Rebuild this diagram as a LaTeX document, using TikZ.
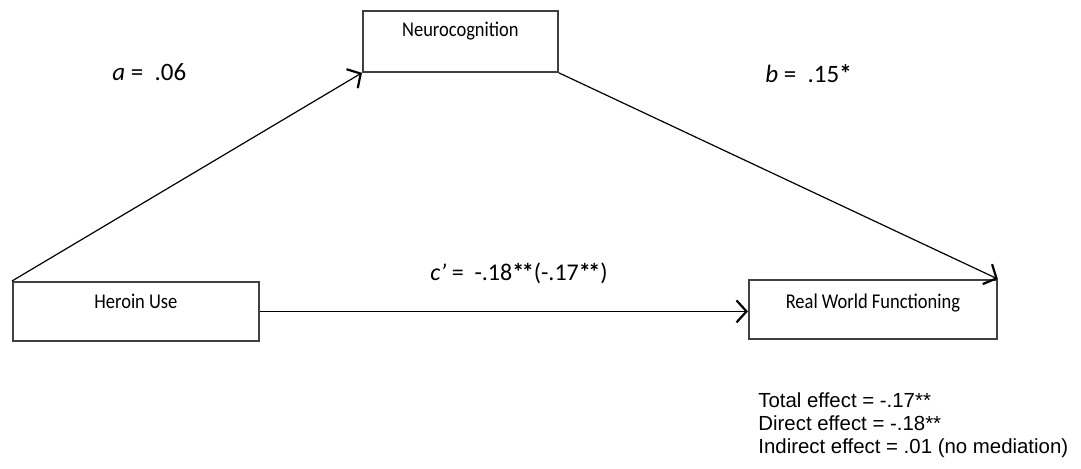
\documentclass[tikz,border=0pt]{standalone}
\usepackage{fontspec}
\setmainfont{Carlito}
\newfontfamily\boxfont[FakeStretch=0.88]{Carlito}
\newfontfamily\notefont{Liberation Sans}
\usetikzlibrary{arrows.meta}

\newcommand{\onestar}{\textbf{*}}
\newcommand{\twostar}{\textbf{*\kern-0.1em*}}

\tikzset{
  varbox/.style={draw=black!75, line width=0.9pt, rectangle, anchor=north west,
    minimum height=29.5pt, text height=7pt, font=\boxfont\fontsize{10.5}{12}\selectfont},
  pathlabel/.style={anchor=base west, inner sep=0pt, font=\fontsize{12.5}{14}\selectfont},
  effectnote/.style={anchor=base west, inner sep=0pt, font=\notefont\fontsize{10.2}{12}\selectfont},
  patharrow/.style={-{Straight Barb[length=5pt,width=11pt,line width=1.1pt]}, line width=0.6pt},
}

\begin{document}
\begin{tikzpicture}[x=0.5pt, y=-0.5pt]
    \useasboundingbox (0,0) rectangle (1081,468);

    % the three variables
    \node[varbox, minimum width=97.5pt, minimum height=30.5pt, text depth=12pt] (neuro) at (362,10) {Neurocognition};
    \node[varbox, minimum width=123pt, text depth=9.5pt] (heroin) at (12,281) {Heroin Use};
    \node[varbox, minimum width=124pt, text depth=7.5pt] (rwf) at (748,279) {Real World Functioning};

    % paths
    \draw[patharrow] (heroin.north west) -- (neuro.south west);
    \draw[patharrow] (neuro.south east) -- (rwf.north east);
    \draw[patharrow] (heroin.east) -- (heroin.east -| rwf.west);

    % path coefficients
    \node[pathlabel] (alabel) at (112,80) {\textit{a} = ~.06};
    \node[pathlabel] (blabel) at (765,82) {\textit{b} = ~.15\onestar};
    \node[pathlabel, font=\fontsize{12}{14}\selectfont] (clabel) at (430,280) {\textit{c’} = ~-.18\twostar(-.17\twostar)};

    % effects
    \node[effectnote] (total) at (758,407) {Total effect = -.17**};
    \node[effectnote] (direct) at (758,430) {Direct effect = -.18**};
    \node[effectnote] (indirect) at (758,453) {Indirect effect = .01 (no mediation)};
\end{tikzpicture}
\end{document}
